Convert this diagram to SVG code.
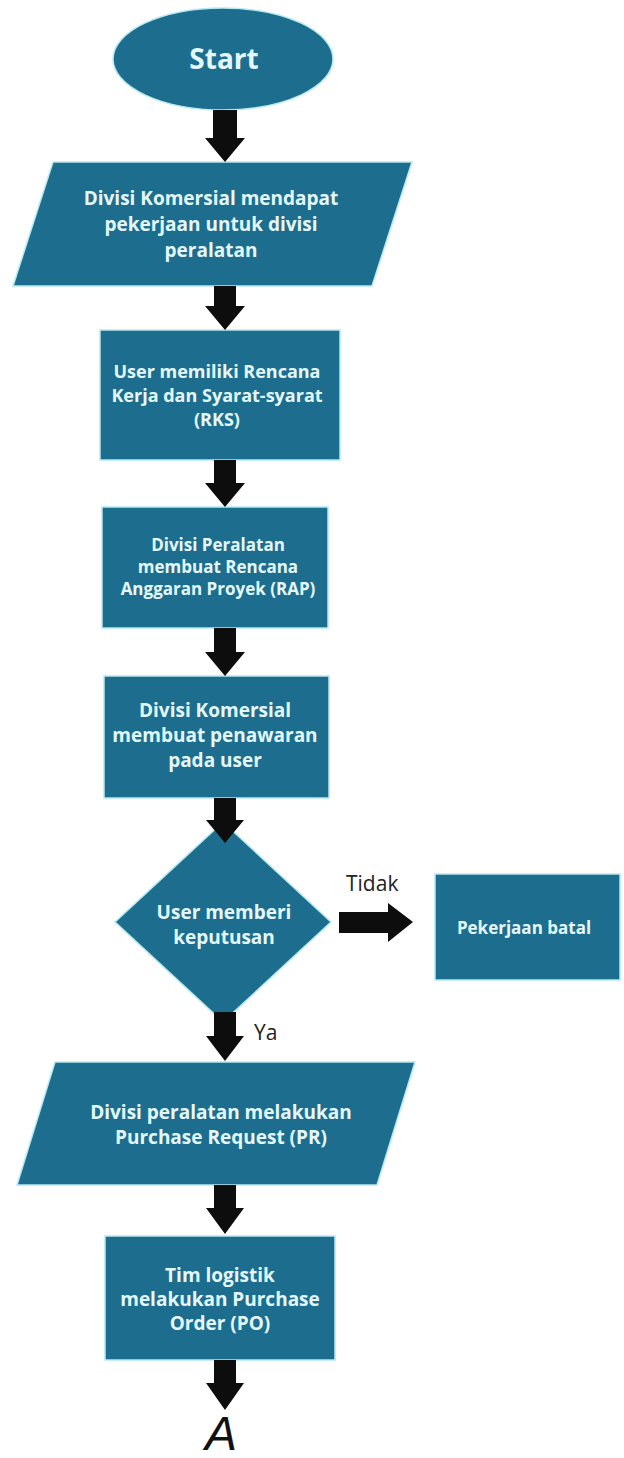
<svg xmlns="http://www.w3.org/2000/svg" width="624" height="1458" viewBox="0 0 624 1458">
<style>
.n{fill:#1d6e8e;stroke:#b6e9f2;stroke-width:1.5}
.t{font-family:"Open Sans","Liberation Sans",sans-serif;font-weight:700;fill:#e4f8fc;text-anchor:middle;font-size:19px}
.m{font-size:18px}
.s{font-size:17px}
.l{font-family:"Open Sans","Liberation Sans",sans-serif;font-size:21px;fill:#222}
.a{fill:#0d0d0d}
</style>
<rect width="624" height="1458" fill="#ffffff"/>
<g id="start">
<ellipse class="n" cx="223" cy="59" rx="110" ry="51"/>
<text class="t" x="224" y="69" style="font-size:28px">Start</text>
</g>
<g id="p1">
<polygon class="n" points="53,162 412,162 372,286 13,286"/>
<text class="t" x="211" y="205">Divisi Komersial mendapat</text>
<text class="t" x="211" y="231">pekerjaan untuk divisi</text>
<text class="t" x="211" y="257">peralatan</text>
</g>
<g id="rks">
<rect class="n" x="100" y="330" width="240" height="130"/>
<text class="t m" x="217" y="378">User memiliki Rencana</text>
<text class="t m" x="217" y="402">Kerja dan Syarat-syarat</text>
<text class="t m" x="217" y="426">(RKS)</text>
</g>
<g id="rap">
<rect class="n" x="102" y="507" width="226" height="121"/>
<text class="t s" x="218" y="551">Divisi Peralatan</text>
<text class="t s" x="218" y="573">membuat Rencana</text>
<text class="t s" x="218" y="595">Anggaran Proyek (RAP)</text>
</g>
<g id="penawaran">
<rect class="n" x="104" y="676" width="225" height="122"/>
<text class="t" x="215" y="717">Divisi Komersial</text>
<text class="t" x="215" y="742">membuat penawaran</text>
<text class="t" x="215" y="767">pada user</text>
</g>
<g id="keputusan">
<polygon class="n" points="223,822 331,922 223,1022 115,922"/>
<text class="t" x="224" y="919">User memberi</text>
<text class="t" x="224" y="944">keputusan</text>
</g>
<g id="batal">
<rect class="n" x="435" y="874" width="185" height="106"/>
<text class="t s" x="524" y="934">Pekerjaan batal</text>
</g>
<g id="pr">
<polygon class="n" points="55,1062 415,1062 377,1185 17,1185"/>
<text class="t" x="221" y="1119">Divisi peralatan melakukan</text>
<text class="t" x="221" y="1144">Purchase Request (PR)</text>
</g>
<g id="po">
<rect class="n" x="105" y="1236" width="230" height="124"/>
<text class="t" x="220" y="1282">Tim logistik</text>
<text class="t" x="220" y="1306">melakukan Purchase</text>
<text class="t" x="220" y="1330">Order (PO)</text>
</g>
<g id="connectors">
<polygon class="a" points="213,110 237,110 237,138 245,138 225,162 205,138 213,138"/>
<polygon class="a" points="214,286 236,286 236,306 245,306 225,330 205,306 214,306"/>
<polygon class="a" points="214,460 236,460 236,483 245,483 225,507 205,483 214,483"/>
<polygon class="a" points="214,628 236,628 236,652 245,652 225,676 205,652 214,652"/>
<polygon class="a" points="214,798 236,798 236,820 244,820 225,843 206,820 214,820"/>
<polygon class="a" points="214,1012 236,1012 236,1036 244,1036 225,1061 206,1036 214,1036"/>
<polygon class="a" points="214,1185 236,1185 236,1208 244,1208 225,1234 206,1208 214,1208"/>
<polygon class="a" points="214,1360 236,1360 236,1383 244,1383 225,1410 206,1383 214,1383"/>
<polygon class="a" points="339,912 388,912 388,903 413,922 388,942 388,933 339,933"/>
<text class="l" x="346" y="891">Tidak</text>
<text class="l" x="254" y="1040">Ya</text>
<text x="221" y="1450" style="font-family:'Liberation Sans',Arial,sans-serif;font-style:italic;font-size:48px;fill:#111;text-anchor:middle">A</text>
</g>
</svg>
